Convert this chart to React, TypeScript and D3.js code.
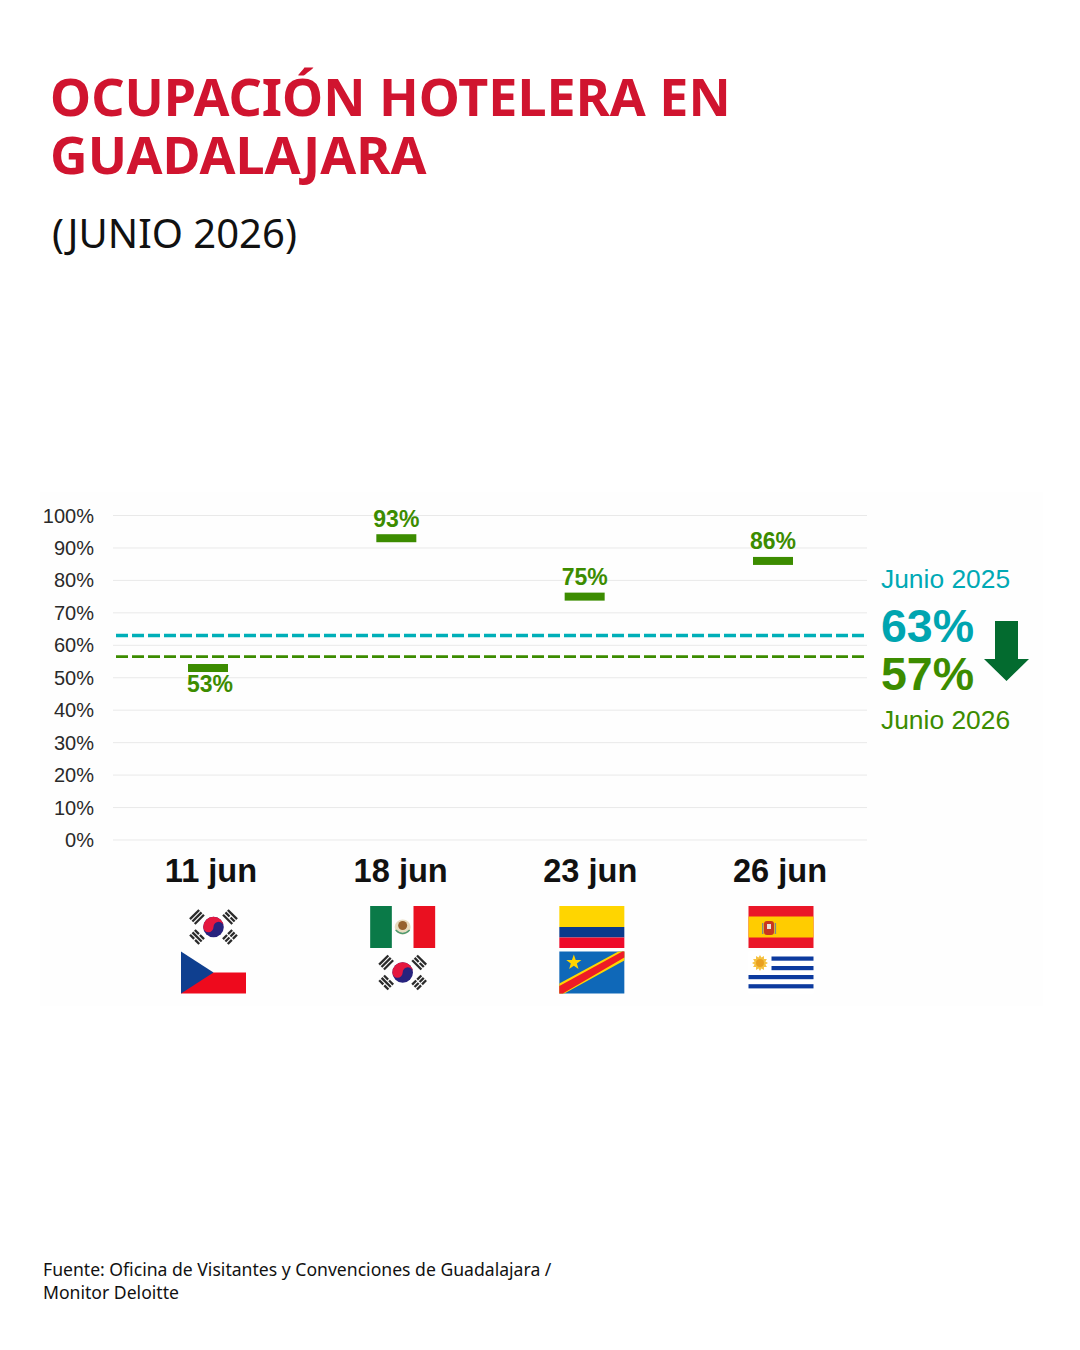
import * as d3 from "d3";
import React from "react";

const dates = ["11 jun", "18 jun", "23 jun", "26 jun"];
const occupancy = [53, 93, 75, 86];
const yTicks = [0, 10, 20, 30, 40, 50, 60, 70, 80, 90, 100];
const flagsTop = ["kr", "mx", "co", "es"];
const flagsBottom = ["cz", "kr", "cd", "uy"];
const avg2025 = 63;
const avg2026 = 56.5;

const RED = "#d0142f";
const TEAL = "#00a5b0";
const GREEN = "#3c8c00";
const sans = "Liberation Sans, Arial, sans-serif";
const titleFont = "'Noto Sans', sans-serif";

const FW = 65;
const FH = 42;

const y = d3.scaleLinear().domain([0, 100]).range([840, 515.5]);
const xBar = d3.scalePoint<string>().domain(dates).range([208, 773]);
const xDate = d3.scalePoint<string>().domain(dates).range([211, 780]);
const xFlag = d3.scalePoint<string>().domain(dates).range([213.5, 781]);

// bars of one trigram, broken = split in the middle
const Trigram = ({ cx, cy, angle, broken }: { cx: number; cy: number; angle: number; broken: boolean[] }) => (
	<g transform={`translate(${cx},${cy}) rotate(${angle})`}>
		{broken.map((b, i) => {
			const yy = -4.6 + i * 3.4;
			return b ? (
				<g key={i}>
					<rect x={-6.5} y={yy} width={5.8} height={2.3} fill="#2a2a2a" />
					<rect x={0.7} y={yy} width={5.8} height={2.3} fill="#2a2a2a" />
				</g>
			) : (
				<rect key={i} x={-6.5} y={yy} width={13} height={2.3} fill="#2a2a2a" />
			);
		})}
	</g>
);

const Korea = () => {
	const c = FW / 2;
	const m = FH / 2;
	const r = 10.3;
	const taegeuk = d3.path();
	taegeuk.moveTo(c - r, m);
	taegeuk.arc(c, m, r, Math.PI, 0);
	taegeuk.arc(c + r / 2, m, r / 2, 0, Math.PI, true);
	taegeuk.arc(c - r / 2, m, r / 2, 0, Math.PI, false);
	return (
		<g>
			<circle cx={c} cy={m} r={r} fill="#27237e" />
			<path d={taegeuk.toString()} fill="#e5173f" />
			<Trigram cx={c - 16.5} cy={m - 10} angle={-45} broken={[false, false, false]} />
			<Trigram cx={c + 16.5} cy={m - 10} angle={45} broken={[false, true, false]} />
			<Trigram cx={c - 16.5} cy={m + 10} angle={45} broken={[true, false, true]} />
			<Trigram cx={c + 16.5} cy={m + 10} angle={-45} broken={[true, true, true]} />
		</g>
	);
};

const Czech = () => (
	<g>
		<rect y={FH / 2} width={FW} height={FH / 2} fill="#ee0a1d" />
		<path d={`M0,0L${FW / 2},${FH / 2}L0,${FH}Z`} fill="#0f3f8f" />
	</g>
);

const Mexico = () => (
	<g>
		<rect width={FW / 3} height={FH} fill="#0a7a48" />
		<rect x={(FW * 2) / 3} width={FW / 3} height={FH} fill="#ea1020" />
		<ellipse cx={FW / 2} cy={FH / 2} rx={8} ry={7.5} fill="#e8dcc0" />
		<ellipse cx={FW / 2} cy={FH / 2 - 1.5} rx={4.5} ry={4.5} fill="#96622e" />
		<path d={`M${FW / 2 - 7},${FH / 2 + 3}Q${FW / 2},${FH / 2 + 10} ${FW / 2 + 7},${FH / 2 + 3}`} fill="none" stroke="#4f9a70" strokeWidth={1.4} />
	</g>
);

const Colombia = () => (
	<g>
		<rect width={FW} height={FH / 2} fill="#ffd500" />
		<rect y={FH / 2} width={FW} height={FH / 4} fill="#0b3a8c" />
		<rect y={(FH * 3) / 4} width={FW} height={FH / 4} fill="#ee0a2a" />
	</g>
);

const starPath = (cx: number, cy: number, r: number, n: number, inner: number) => {
	const pts: [number, number][] = d3.range(n * 2).map((i) => {
		const a = (i * Math.PI) / n - Math.PI / 2;
		const rr = i % 2 ? r * inner : r;
		return [cx + rr * Math.cos(a), cy + rr * Math.sin(a)];
	});
	return `M${pts.join("L")}Z`;
};

const Congo = () => (
	<g>
		<rect width={FW} height={FH} fill="#0f68b8" />
		<path d="M0,32L59,0H65V9L5,42H0Z" fill="#ffd500" />
		<path d="M0,34.5L63,0H65V6L3.5,42H0Z" fill="#ee1c25" />
		<path d={starPath(14.5, 11, 8, 5, 0.4)} fill="#ffd500" />
	</g>
);

const Spain = () => (
	<g>
		<rect width={FW} height={FH} fill="#ea1628" />
		<rect y={FH / 4} width={FW} height={FH / 2} fill="#ffcc00" />
		<rect x={15.5} y={15} width={10} height={14} rx={3} fill="#c9361f" />
		<rect x={18.5} y={18} width={4} height={5} fill="#e8e0d8" />
		<rect x={13.5} y={17} width={1.4} height={11} fill="#7d8a8c" />
		<rect x={26.2} y={17} width={1.4} height={11} fill="#7d8a8c" />
	</g>
);

const Uruguay = () => (
	<g>
		<rect width={FW} height={FH} fill="#fff" />
		<rect x={23} y={5} width={42} height={4.2} fill="#0c3a9e" />
		<rect x={23} y={14.5} width={42} height={4.2} fill="#0c3a9e" />
		<rect y={23.5} width={FW} height={4.2} fill="#0c3a9e" />
		<rect y={32.7} width={FW} height={4.2} fill="#0c3a9e" />
		<path d={starPath(11.5, 11.5, 8, 12, 0.7)} fill="#f5c242" />
		<circle cx={11.5} cy={11.5} r={4} fill="#e9a020" />
	</g>
);

const flagMap: Record<string, () => React.ReactElement> = {
	kr: Korea,
	cz: Czech,
	mx: Mexico,
	co: Colombia,
	cd: Congo,
	es: Spain,
	uy: Uruguay,
};

const Flag = ({ code, cx, top }: { code: string; cx: number; top: number }) => {
	const F = flagMap[code];
	return (
		<g transform={`translate(${cx - FW / 2},${top})`}>
			<F />
		</g>
	);
};

export default function App() {
	return (
		<svg
			width={1080}
			height={1350}
			viewBox="0 0 1080 1350"
			style={{ position: "fixed", left: 0, top: 0, background: "#fff" }}
		>
			<rect x={40} y={492} width={1003} height={514} fill="#fefefe" />

			<g fontFamily={titleFont} fill={RED} fontWeight={700} fontSize={52}>
				<text x={50} y={116}>OCUPACIÓN HOTELERA EN</text>
				<text x={50} y={174}>GUADALAJARA</text>
			</g>
			<text x={52} y={248} fontFamily={titleFont} fontSize={40} fill="#111">(JUNIO 2026)</text>

			{yTicks.map((t) => (
				<g key={t}>
					<line x1={113} x2={867} y1={y(t)} y2={y(t)} stroke="#e9e9e9" strokeWidth={1} />
					<text x={94} y={y(t) + 7} textAnchor="end" fontFamily={sans} fontSize={20} fill="#2a2a2a">
						{t}%
					</text>
				</g>
			))}

			<line x1={116} x2={866} y1={y(avg2025)} y2={y(avg2025)} stroke="#00afb8" strokeWidth={3.4} strokeDasharray="12 4" />
			<line x1={116} x2={866} y1={y(avg2026)} y2={y(avg2026)} stroke={GREEN} strokeWidth={2.8} strokeDasharray="12 4" />

			{dates.map((d, i) => {
				const v = occupancy[i];
				const below = v < avg2026;
				return (
					<g key={d}>
						<rect x={xBar(d)! - 20} y={y(v) - 4} width={40} height={8} fill={GREEN} />
						<text
							x={xBar(d)! + (below ? 2 : 0)}
							y={below ? y(v) + 23.5 : y(v) - 11.5}
							textAnchor="middle"
							fontFamily={sans}
							fontWeight={700}
							fontSize={23}
							fill={GREEN}
						>
							{v}%
						</text>
						<text x={xDate(d)} y={882} textAnchor="middle" fontFamily={sans} fontWeight={700} fontSize={32.6} fill="#111">
							{d}
						</text>
						<Flag code={flagsTop[i]} cx={xFlag(d)!} top={906} />
						<Flag code={flagsBottom[i]} cx={xFlag(d)!} top={951.5} />
					</g>
				);
			})}

			<text x={881} y={588} fontFamily={sans} fontSize={26.4} fill="#00a9b5">Junio 2025</text>
			<text x={881} y={642} fontFamily={sans} fontWeight={700} fontSize={46.5} fill={TEAL}>{avg2025}%</text>
			<text x={881} y={690} fontFamily={sans} fontWeight={700} fontSize={46.5} fill={GREEN}>57%</text>
			<text x={881} y={729} fontFamily={sans} fontSize={26.4} fill={GREEN}>Junio 2026</text>
			<path d="M995,621H1018V659H1029L1006.5,681L984,659H995Z" fill="#036b2f" />

			<g fontFamily={titleFont} fontSize={17.6} fill="#111">
				<text x={43} y={1276}>Fuente: Oficina de Visitantes y Convenciones de Guadalajara /</text>
				<text x={43} y={1299}>Monitor Deloitte</text>
			</g>
		</svg>
	);
}
